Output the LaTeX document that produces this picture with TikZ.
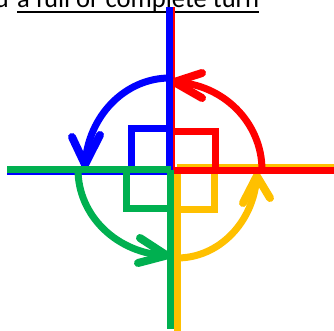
\documentclass[tikz,border=0pt]{standalone}
\usepackage{fontspec}
\setmainfont{Carlito}
\definecolor{cblue}{RGB}{0,0,255}
\definecolor{cred}{RGB}{255,0,0}
\definecolor{cgreen}{RGB}{0,176,80}
\definecolor{cyellow}{RGB}{255,192,0}
\begin{document}
\begin{tikzpicture}[x=1pt,y=1pt,
  ray/.style={line width=7pt,line cap=butt},
  turn/.style={line width=7pt,line cap=round},
  barb/.style={line width=8pt,line cap=round,line join=round},
  corner/.style={line width=7pt,line join=miter},
  lbl/.style={inner sep=0pt,font=\fontsize{26.6}{30}\selectfont}]
\useasboundingbox (0,0) rectangle (334,-331);
% title
\node[lbl,anchor=base east] (pre) at (9,-8) {d};
\node[lbl,anchor=base west] (txt) at (17,-8) {a full or complete turn};
\draw[line width=1.7pt] ([yshift=-3.8pt]txt.base west) -- ([yshift=-3.8pt]txt.base east);
% yellow quadrant
\coordinate (yc) at (177,-167);
\draw[ray,cyellow] (yc) -- (177,-331);
\draw[ray,cyellow] (yc) -- (334,-167);
\draw[corner,cyellow] (177,-209.5) -| (214.5,-167);
\draw[turn,cyellow] (177,-258) arc[start angle=270,end angle=356,x radius=80,y radius=88] coordinate (ytip);
\draw[barb,cyellow] (243,-203) -- (ytip) -- (270,-198);
% red quadrant
\coordinate (rc) at (171,-170);
\draw[ray,cred] (rc) -- (171,-7);
\draw[ray,cred] (rc) -- (334,-170);
\draw[corner,cred] (171,-131.7) -| (215,-170);
\draw[turn,cred] (262,-170) arc[start angle=0,end angle=88,x radius=91,y radius=88] coordinate (rtip);
\draw[barb,cred] (202,-73) -- (rtip) -- (202,-98);
% blue quadrant
\coordinate (bc) at (169.8,-171);
\draw[ray,cblue] (bc) -- (169.8,-7);
\draw[ray,cblue] (bc) -- (7,-171);
\draw[corner,cblue] (131.5,-171) |- (169.8,-128.5);
\draw[turn,cblue] (169.8,-78) arc[start angle=90,end angle=176,x radius=85,y radius=93] coordinate (btip);
\draw[barb,cblue] (72,-137) -- (btip) -- (100,-135);
% green quadrant
\coordinate (gc) at (170.7,-169.5);
\draw[ray,cgreen] (gc) -- (170.7,-329);
\draw[ray,cgreen] (gc) -- (7,-169.5);
\draw[corner,cgreen] (126.7,-169.5) |- (170.7,-208.5);
\draw[turn,cgreen] (78,-169.5) arc[start angle=180,end angle=268,x radius=92,y radius=86] coordinate (gtip);
\draw[barb,cgreen] (140,-238) -- (gtip) -- (138,-263);
\end{tikzpicture}
\end{document}
